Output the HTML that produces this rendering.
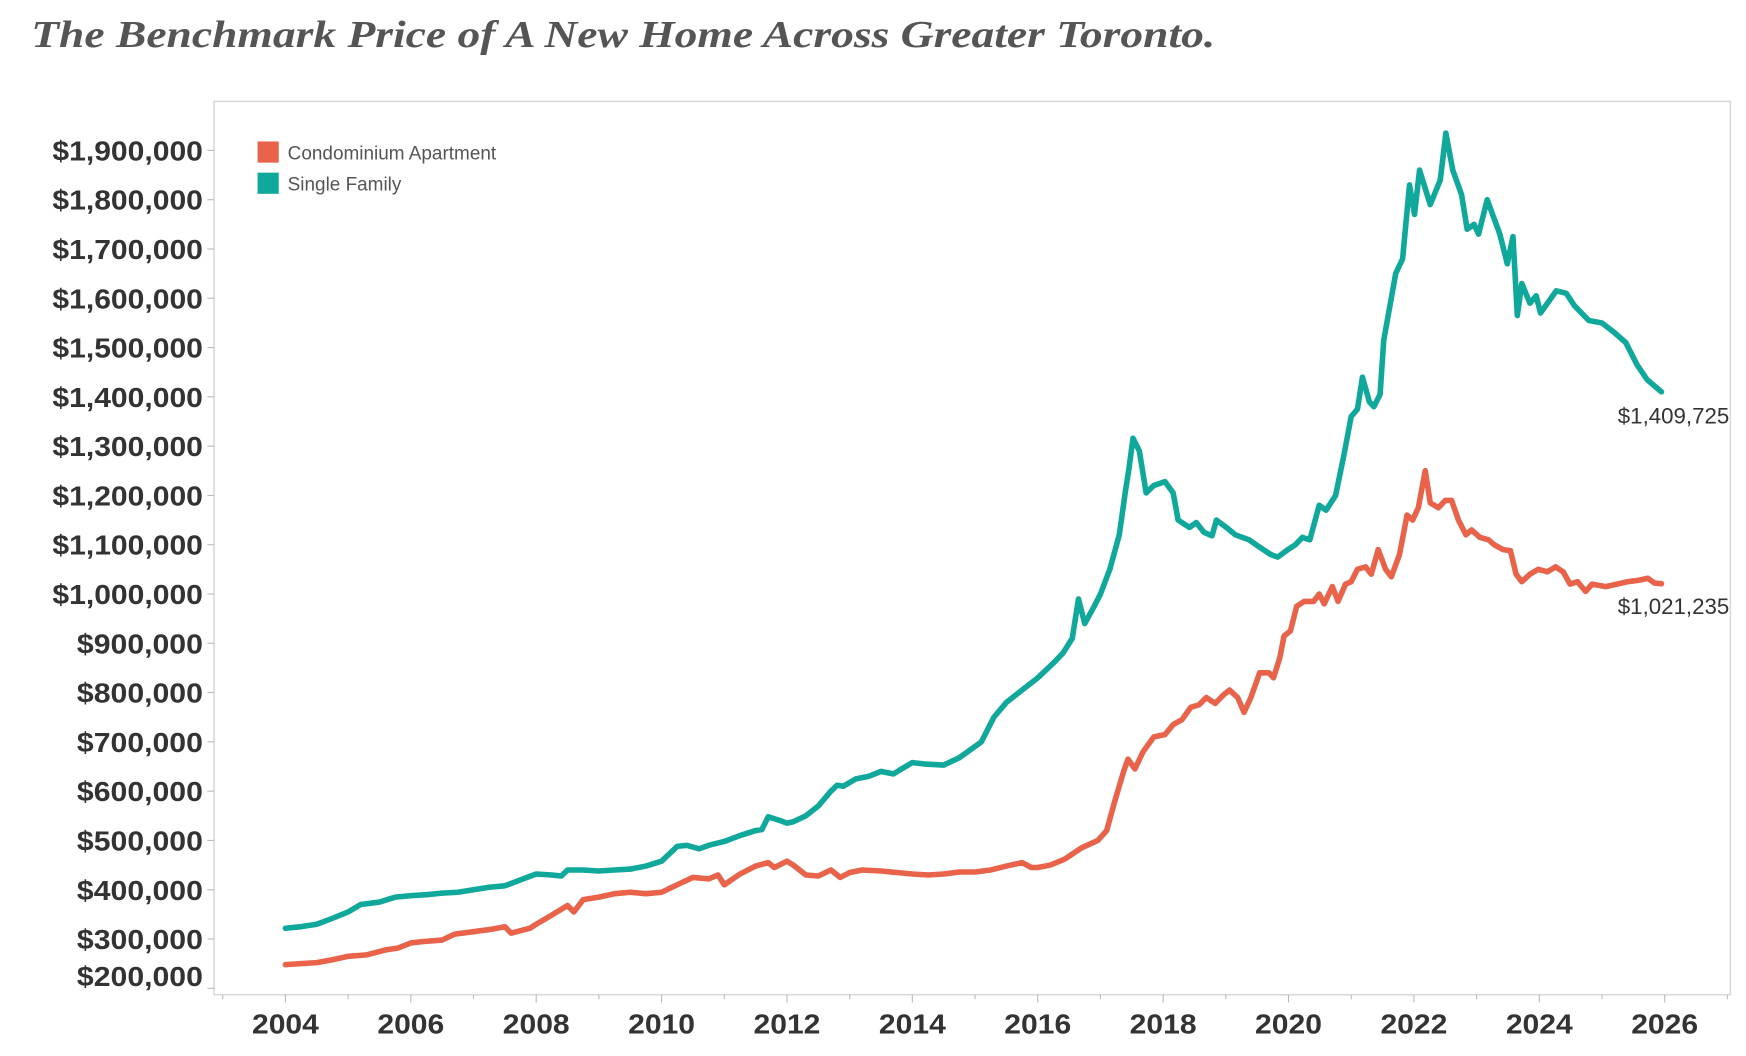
<!DOCTYPE html>
<html><head><meta charset="utf-8">
<style>
html,body{margin:0;padding:0;background:#fff;}
svg{display:block;}
</style></head>
<body>
<svg id="chart" width="1746" height="1056" viewBox="0 0 1566 948" preserveAspectRatio="none" xmlns="http://www.w3.org/2000/svg">
<text x="28" y="42" textLength="1062" lengthAdjust="spacingAndGlyphs" font-family="'Liberation Serif', serif" font-style="italic" font-weight="bold" font-size="34" fill="#555">The Benchmark Price of A New Home Across Greater Toronto.</text>
<rect x="192" y="91" width="1360" height="802" fill="none" stroke="#d6d6d6" stroke-width="1.3"/>
<g id="yaxis"></g>
<g id="xaxis"></g>
<g id="series"></g>
<g>
  <rect x="231" y="127" width="19" height="19" fill="#e8634a"/>
  <text x="258" y="143" font-family="'Liberation Sans', sans-serif" font-size="17" fill="#555">Condominium Apartment</text>
  <rect x="231" y="155" width="19" height="19" fill="#0fa89a"/>
  <text x="258" y="171" font-family="'Liberation Sans', sans-serif" font-size="17" fill="#555">Single Family</text>
</g>
<text x="1551" y="380" text-anchor="end" font-family="'Liberation Sans', sans-serif" font-size="20" fill="#333">$1,409,725</text>
<text x="1551" y="551" text-anchor="end" font-family="'Liberation Sans', sans-serif" font-size="20" fill="#333">$1,021,235</text>
</svg>
<script>
const yTicks = [200,300,400,500,600,700,800,900,1000,1100,1200,1300,1400,1500,1600,1700,1800,1900];
const xTicks = [2004,2006,2008,2010,2012,2014,2016,2018,2020,2022,2024,2026];
const singleYears = [2004.0,2004.25,2004.5,2004.75,2005.0,2005.2,2005.5,2005.75,2006.0,2006.25,2006.5,2006.75,2007.0,2007.25,2007.5,2007.75,2008.0,2008.25,2008.4,2008.5,2008.75,2009.0,2009.25,2009.5,2009.75,2010.0,2010.1,2010.25,2010.4,2010.6,2010.75,2011.0,2011.25,2011.5,2011.6,2011.7,2011.9,2012.0,2012.1,2012.3,2012.5,2012.7,2012.8,2012.9,2013.1,2013.3,2013.5,2013.7,2013.8,2014.0,2014.2,2014.5,2014.75,2015.1,2015.3,2015.5,2015.75,2016.0,2016.25,2016.4,2016.55,2016.65,2016.75,2016.9,2017.0,2017.15,2017.3,2017.4,2017.45,2017.52,2017.62,2017.73,2017.85,2018.03,2018.16,2018.24,2018.42,2018.53,2018.65,2018.78,2018.85,2019.01,2019.15,2019.37,2019.54,2019.72,2019.83,2019.99,2020.11,2020.22,2020.34,2020.49,2020.6,2020.75,2020.88,2021.0,2021.1,2021.18,2021.29,2021.36,2021.46,2021.52,2021.71,2021.82,2021.93,2022.01,2022.09,2022.26,2022.42,2022.51,2022.62,2022.76,2022.85,2022.96,2023.03,2023.17,2023.37,2023.49,2023.58,2023.65,2023.72,2023.85,2023.95,2024.02,2024.27,2024.43,2024.56,2024.79,2025.0,2025.2,2025.38,2025.56,2025.72,2025.95];
const singleValues = [322,325,330,342,355,370,375,385,388,390,393,395,400,405,408,420,432,430,428,440,440,438,440,442,448,458,470,488,490,483,490,498,510,520,522,548,540,535,538,550,570,600,612,610,625,630,640,635,643,658,655,653,668,700,750,780,805,830,860,880,910,990,940,975,1000,1050,1120,1210,1250,1316,1290,1205,1220,1228,1205,1150,1135,1145,1125,1118,1150,1135,1120,1110,1095,1080,1075,1090,1100,1115,1110,1180,1170,1200,1280,1360,1375,1440,1390,1380,1405,1515,1650,1680,1830,1770,1860,1790,1840,1935,1860,1810,1740,1750,1730,1800,1730,1670,1725,1565,1630,1590,1605,1570,1615,1610,1585,1555,1550,1530,1510,1465,1435,1410];
const condoYears = [2004.0,2004.5,2004.75,2005.0,2005.3,2005.6,2005.8,2006.0,2006.2,2006.5,2006.7,2007.0,2007.3,2007.5,2007.6,2007.9,2008.0,2008.2,2008.5,2008.6,2008.75,2009.0,2009.25,2009.5,2009.75,2010.0,2010.25,2010.5,2010.75,2010.9,2011.0,2011.25,2011.5,2011.7,2011.8,2012.0,2012.1,2012.3,2012.5,2012.7,2012.85,2013.0,2013.2,2013.5,2013.75,2014.0,2014.25,2014.5,2014.75,2015.0,2015.25,2015.5,2015.75,2015.9,2016.0,2016.2,2016.43,2016.7,2016.96,2017.1,2017.23,2017.37,2017.44,2017.55,2017.68,2017.85,2018.03,2018.16,2018.3,2018.44,2018.57,2018.69,2018.83,2018.96,2019.06,2019.19,2019.29,2019.4,2019.54,2019.69,2019.76,2019.86,2019.93,2020.03,2020.13,2020.25,2020.4,2020.49,2020.57,2020.7,2020.79,2020.91,2021.0,2021.1,2021.23,2021.32,2021.43,2021.55,2021.64,2021.77,2021.89,2021.98,2022.07,2022.18,2022.26,2022.39,2022.5,2022.6,2022.71,2022.83,2022.92,2023.05,2023.19,2023.28,2023.42,2023.54,2023.63,2023.72,2023.85,2023.98,2024.13,2024.26,2024.38,2024.49,2024.61,2024.74,2024.84,2025.06,2025.24,2025.41,2025.59,2025.73,2025.84,2025.95];
const condoValues = [248,252,258,265,268,278,282,292,295,298,310,315,320,325,312,322,330,345,368,355,380,385,392,395,392,395,410,425,422,430,410,432,448,455,445,458,450,430,428,440,425,435,440,438,435,432,430,432,436,436,440,448,455,445,445,450,462,485,500,520,580,640,665,645,680,710,715,735,745,770,775,790,778,795,805,790,760,790,840,840,830,870,915,925,975,985,985,1000,980,1015,985,1020,1025,1050,1055,1040,1090,1050,1035,1080,1160,1150,1175,1250,1185,1175,1190,1190,1150,1120,1130,1115,1110,1100,1090,1088,1040,1025,1040,1050,1045,1055,1045,1020,1025,1005,1020,1015,1020,1025,1028,1032,1022,1021];

const NS = 'http://www.w3.org/2000/svg';
function xScale(yr){ return 256 + (yr - 2004) * 56.23; }
function yScale(v){ return 843 - (v - 300) * 0.4425; }
function fmt(v){ return '$' + (v*1000).toLocaleString('en-US'); }

const yAxis = document.getElementById('yaxis');
yTicks.forEach(function(t){
  const ln = document.createElementNS(NS,'line');
  ln.setAttribute('x1',186); ln.setAttribute('x2',192);
  ln.setAttribute('y1',yScale(t)); ln.setAttribute('y2',yScale(t));
  ln.setAttribute('stroke','#bbb');
  
  
  yAxis.appendChild(ln);
  const tx = document.createElementNS(NS,'text');
  const label = fmt(t);
  tx.setAttribute('x',182);
  tx.setAttribute('y', t === 200 ? yScale(t) - 2 : yScale(t) + 9);
  tx.setAttribute('text-anchor','end');
  tx.setAttribute('font-family',"'Liberation Sans', sans-serif");
  tx.setAttribute('font-weight','bold');
  tx.setAttribute('font-size','25');
  tx.setAttribute('fill','#333');
  tx.setAttribute('textLength', label.length > 8 ? 135 : 113);
  tx.setAttribute('lengthAdjust','spacingAndGlyphs');
  tx.textContent = label;
  
  
  yAxis.appendChild(tx);
});

const xAxis = document.getElementById('xaxis');
for (let yr = 2003; yr <= 2027; yr++) {
  const x = xScale(yr);
  if (x < 192 || x > 1552) continue;
  const ln = document.createElementNS(NS,'line');
  ln.setAttribute('x1',x); ln.setAttribute('x2',x);
  ln.setAttribute('y1',893); ln.setAttribute('y2', yr % 2 === 0 ? 900 : 897);
  ln.setAttribute('stroke','#bbb');
  
  
  xAxis.appendChild(ln);
}
xTicks.forEach(function(t){
  const tx = document.createElementNS(NS,'text');
  tx.setAttribute('x',xScale(t));
  tx.setAttribute('y',928);
  tx.setAttribute('text-anchor','middle');
  tx.setAttribute('font-family',"'Liberation Sans', sans-serif");
  tx.setAttribute('font-weight','bold');
  tx.setAttribute('font-size','25');
  tx.setAttribute('fill','#333');
  tx.setAttribute('textLength', 60);
  tx.setAttribute('lengthAdjust','spacingAndGlyphs');
  tx.textContent = t;
  
  
  xAxis.appendChild(tx);
});

const series = document.getElementById('series');
function drawLine(years, vals, color, name){
  const p = document.createElementNS(NS,'path');
  let d = '';
  for (let i = 0; i < years.length; i++) {
    d += (i ? 'L' : 'M') + xScale(years[i]).toFixed(1) + ',' + yScale(vals[i]).toFixed(1);
  }
  p.setAttribute('d', d);
  p.setAttribute('fill','none');
  p.setAttribute('stroke',color);
  p.setAttribute('stroke-width','5');
  p.setAttribute('stroke-linejoin','round');
  p.setAttribute('stroke-linecap','round');
  
  
  series.appendChild(p);
}
drawLine(condoYears, condoValues, '#e8634a', 'condo-line');
drawLine(singleYears, singleValues, '#0fa89a', 'single-family-line');
</script>
</body></html>
